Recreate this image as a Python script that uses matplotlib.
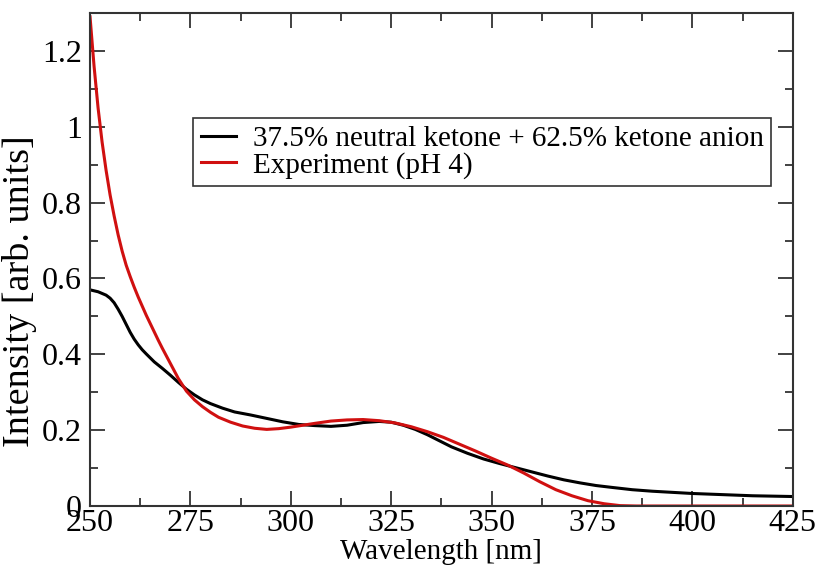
import matplotlib
matplotlib.use("Agg")
import matplotlib.pyplot as plt
from matplotlib.ticker import MultipleLocator

# spectra
wl_calc = [250, 252, 254, 255, 256, 257, 258, 259, 260, 261, 262, 263, 264, 266,
           268, 270, 272, 274, 276, 278, 280, 283, 286, 290, 294, 298, 302, 306,
           310, 314, 318, 322, 325, 328, 331, 334, 337, 340, 344, 348, 352, 356,
           360, 364, 368, 372, 376, 380, 385, 390, 395, 400, 405, 410, 415, 420,
           425]
int_calc = [0.570, 0.565, 0.556, 0.548, 0.536, 0.519, 0.500, 0.479, 0.458, 0.440,
            0.425, 0.412, 0.401, 0.380, 0.363, 0.345, 0.326, 0.308, 0.293, 0.280,
            0.270, 0.258, 0.248, 0.240, 0.231, 0.222, 0.215, 0.212, 0.210, 0.213,
            0.220, 0.223, 0.221, 0.213, 0.202, 0.188, 0.172, 0.156, 0.139, 0.124,
            0.112, 0.101, 0.090, 0.079, 0.069, 0.061, 0.054, 0.049, 0.043, 0.039,
            0.036, 0.033, 0.031, 0.029, 0.027, 0.026, 0.025]

wl_exp = [250, 251, 252, 253, 254, 255, 256, 257, 258, 259, 260, 261, 262, 263,
          264, 265, 266, 267, 268, 269, 270, 272, 274, 276, 278, 280, 282, 285,
          288, 291, 294, 297, 300, 303, 306, 310, 314, 318, 322, 326, 330, 334,
          338, 342, 346, 350, 354, 358, 362, 366, 370, 374, 378, 382, 386, 425]
int_exp = [1.29, 1.16, 1.05, 0.96, 0.885, 0.82, 0.765, 0.715, 0.672, 0.635,
           0.605, 0.577, 0.551, 0.527, 0.503, 0.481, 0.459, 0.437, 0.416, 0.396,
           0.376, 0.336, 0.303, 0.280, 0.262, 0.247, 0.234, 0.221, 0.211, 0.205,
           0.202, 0.204, 0.208, 0.213, 0.218, 0.224, 0.227, 0.228, 0.225, 0.219,
           0.209, 0.196, 0.181, 0.163, 0.145, 0.126, 0.108, 0.087, 0.064, 0.043,
           0.027, 0.014, 0.006, 0.001, 0.0, 0.0]

labels = ["37.5% neutral ketone + 62.5% ketone anion", "Experiment (pH 4)"]

plt.rcParams['font.family'] = ['Liberation Serif', 'DejaVu Serif']

fig = plt.figure(figsize=(8.2, 5.66), dpi=100)
ax = fig.add_axes([0.1098, 0.106, 0.857, 0.871])

ax.plot(wl_calc, int_calc, color='black', lw=2.2, label=labels[0])
ax.plot(wl_exp, int_exp, color='#d01010', lw=2.2, label=labels[1])

ax.set_xlim(250, 425)
ax.set_ylim(0, 1.3)
ax.xaxis.set_major_locator(MultipleLocator(25))
ax.xaxis.set_minor_locator(MultipleLocator(12.5))
ax.yaxis.set_minor_locator(MultipleLocator(0.1))
ax.set_yticks([0, 0.2, 0.4, 0.6, 0.8, 1, 1.2])
ax.set_yticklabels(['0', '0.2', '0.4', '0.6', '0.8', '1', '1.2'])

ax.tick_params(which='both', direction='in', top=True, right=True,
               labelsize=23, width=1.3, color='#333333')
ax.tick_params(which='major', length=11, pad=2)
ax.tick_params(which='minor', length=6)
ax.tick_params(axis='y', pad=6)
for s in ax.spines.values():
    s.set_linewidth(1.5)
    s.set_color('#333333')

ax.set_xlabel('Wavelength [nm]', fontsize=21, labelpad=1)
ax.set_ylabel('Intensity [arb. units]', fontsize=27.5)
ax.yaxis.set_label_coords(-0.076, 0.435)

leg = ax.legend(loc='upper left', bbox_to_anchor=(0.147, 0.787), fontsize=21,
                frameon=True, fancybox=False, handlelength=1.2,
                handletextpad=0.6, borderpad=0.25, labelspacing=0.0,
                borderaxespad=0)
leg.get_frame().set_edgecolor('black')
leg.get_frame().set_linewidth(1.2)

fig.savefig('out.png', dpi=100)
